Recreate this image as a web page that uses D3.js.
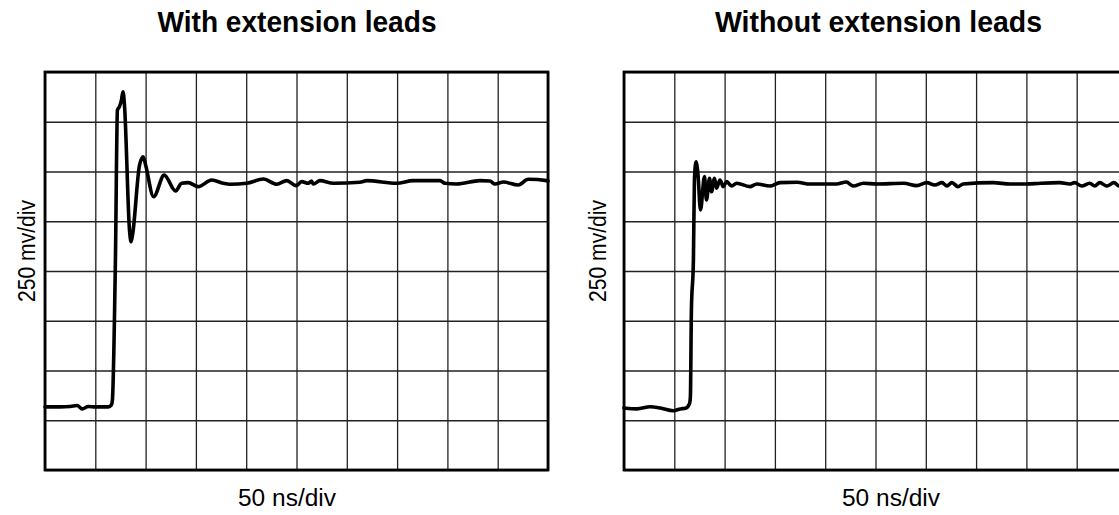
<!DOCTYPE html>
<html><head><meta charset="utf-8">
<script src="https://cdn.jsdelivr.net/npm/d3@7"></script>
<style>
body{margin:0;background:#fff;overflow:hidden;}
svg{display:block;}
text{font-family:"Liberation Sans",Arial,Helvetica,sans-serif;fill:#000;}
</style>
</head><body>
<svg id="chart" width="1119" height="515"></svg>
<script>
// ---- data ----
const panelTitles = ["With extension leads", "Without extension leads"];
const xAxisLabel = "50 ns/div";
const yAxisLabel = "250 mv/div";
const timeTicks = [0, 50, 100, 150, 200, 250, 300, 350, 400, 450, 500];      // ns
const voltTicks = [0, 250, 500, 750, 1000, 1250, 1500, 1750, 2000];          // mV

// With extension leads: time (ns), voltage (mV)
const withLeadsTime = [0, 15, 25, 32, 37, 43, 50, 63, 66, 67, 70, 72, 74, 76, 77.5, 79, 84, 85.5, 87, 94, 97.6, 100, 108, 118.5, 129.8, 135.8, 142.4, 152.3, 165.7, 177.2, 183.9, 200.5, 217, 230.3, 240.3, 249.5, 255.2, 261.7, 265, 266.7, 273.4, 286.6, 313, 319.8, 349.6, 366, 392.6, 397.6, 409.2, 432.4, 442.3, 447.3, 455.6, 470.5, 480.4, 498.7, 500];
const withLeadsMv   = [317, 317, 319, 324, 307, 319, 317, 317, 327, 352, 1055, 1809, 1826, 1859, 1901, 1834, 1206, 1147, 1181, 1533, 1574, 1533, 1373, 1482, 1402, 1441, 1444, 1424, 1457, 1441, 1436, 1441, 1462, 1436, 1454, 1429, 1449, 1441, 1452, 1437, 1454, 1441, 1446, 1454, 1441, 1454, 1454, 1441, 1437, 1454, 1452, 1437, 1447, 1432, 1461, 1454, 1452];

// Without extension leads: time (ns), voltage (mV)
const withoutLeadsTime = [0, 2, 13, 26, 36, 49, 56, 61, 65, 66, 67, 69, 70, 71.6, 73.6, 76, 80, 82, 85, 87, 90, 92, 95.4, 98.7, 102, 107, 112, 125, 132, 145, 155, 172, 185, 211, 221, 228, 238, 251, 278, 291, 301, 309, 316, 321, 326, 332, 337, 367, 384, 400, 414, 433, 443, 448, 455, 463, 468, 473, 480, 487, 492, 500];
const withoutLeadsMv   = [312, 310, 307, 318, 312, 298, 307, 310, 332, 368, 804, 1055, 1457, 1549, 1482, 1307, 1474, 1357, 1466, 1398, 1466, 1416, 1457, 1424, 1449, 1427, 1441, 1424, 1437, 1427, 1444, 1446, 1437, 1437, 1447, 1427, 1441, 1437, 1441, 1429, 1444, 1432, 1444, 1427, 1444, 1424, 1437, 1444, 1437, 1437, 1441, 1444, 1437, 1444, 1427, 1441, 1427, 1444, 1427, 1444, 1427, 1442];

const seriesTime = [withLeadsTime, withoutLeadsTime];
const seriesMv = [withLeadsMv, withoutLeadsMv];

// ---- layout ----
const svg = d3.select("#chart");
const plotW = 503, plotH = 398;
const panels = [
  {x: 45, y: 72, titleX: 297, titleW: 279, xLabelX: 287, yLabelX: 35},
  {x: 624, y: 72, titleX: 878.5, titleW: 327, xLabelX: 891, yLabelX: 606}
];

const x = d3.scaleLinear().domain([0, 500]).range([0, plotW]);
const y = d3.scaleLinear().domain([0, 2000]).range([plotH, 0]);

panels.forEach((p, i) => {
  const g = svg.append("g").attr("transform", `translate(${p.x},${p.y})`);

  // vertical grid
  g.append("g")
    .attr("transform", `translate(0,${plotH})`)
    .call(d3.axisBottom(x).tickValues(timeTicks).tickSize(-plotH).tickFormat(""))
    .call(s => s.select(".domain").remove())
    .call(s => s.selectAll("line").attr("stroke", "#222").attr("stroke-width", 1.3));

  // horizontal grid
  g.append("g")
    .call(d3.axisLeft(y).tickValues(voltTicks).tickSize(-plotW).tickFormat(""))
    .call(s => s.select(".domain").remove())
    .call(s => s.selectAll("line").attr("stroke", "#222").attr("stroke-width", 1.3));

  // border
  g.append("rect")
    .attr("x", 0).attr("y", 0).attr("width", plotW).attr("height", plotH)
    .attr("fill", "none").attr("stroke", "#000").attr("stroke-width", 2.8);

  // trace
  const pts = seriesTime[i].map((t, k) => [t, seriesMv[i][k]]);
  g.append("path")
    .datum(pts)
    .attr("fill", "none")
    .attr("stroke", "#000")
    .attr("stroke-width", 3.6)
    .attr("stroke-linejoin", "round")
    .attr("stroke-linecap", "round")
    .attr("d", d3.line().curve(d3.curveMonotoneX).x(d => x(d[0])).y(d => y(d[1])));

  // title
  svg.append("text")
    .attr("x", p.titleX).attr("y", 32)
    .attr("text-anchor", "middle")
    .attr("font-weight", "bold")
    .attr("font-size", 29)
    .attr("textLength", p.titleW)
    .attr("lengthAdjust", "spacingAndGlyphs")
    .text(panelTitles[i]);

  // x label
  svg.append("text")
    .attr("x", p.xLabelX).attr("y", 506)
    .attr("text-anchor", "middle")
    .attr("font-size", 23)
    .attr("textLength", 98)
    .attr("lengthAdjust", "spacingAndGlyphs")
    .text(xAxisLabel);

  // y label
  svg.append("text")
    .attr("transform", `translate(${p.yLabelX},251) rotate(-90)`)
    .attr("text-anchor", "middle")
    .attr("font-size", 23)
    .attr("textLength", 102)
    .attr("lengthAdjust", "spacingAndGlyphs")
    .text(yAxisLabel);
});
</script>
</body></html>
